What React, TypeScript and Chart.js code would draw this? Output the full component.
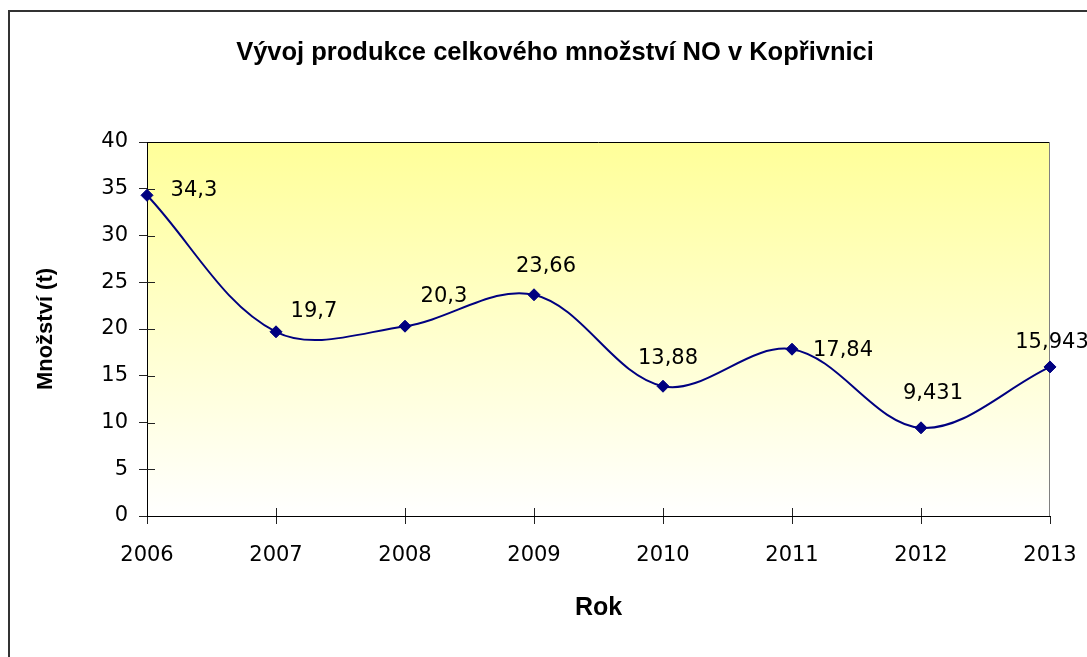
import React, { useEffect, useRef } from "react";
import { Chart, registerables } from "chart.js";

Chart.register(...registerables);

// ---- data ----
const years: string[] = ["2006", "2007", "2008", "2009", "2010", "2011", "2012", "2013"];
const amounts: number[] = [34.3, 19.7, 20.3, 23.66, 13.88, 17.84, 9.431, 15.943];
const yMin = 0;
const yMax = 40;
const yStep = 5;
const chartTitle = "Vývoj produkce celkového množství NO v Kopřivnici";
const xTitle = "Rok";
const yTitle = "Množství (t)";

// label placement (styling offsets relative to each point, px)
const labelOffsets: [number, number][] = [
  [47, -5],
  [38, -20],
  [39, -30],
  [12, -28],
  [5, -28],
  [51, 1],
  [12, -34],
  [2, -24],
];

const NAVY = "#000080";
const TICK_FONT = { family: "'DejaVu Sans', sans-serif", size: 21 };

const fmt = (v: number) => String(v).replace(".", ",");

const plotDecor = {
  id: "plotDecor",
  beforeDraw(chart: any) {
    const { ctx, chartArea: a } = chart;
    const g = ctx.createLinearGradient(0, a.top, 0, a.bottom);
    g.addColorStop(0, "#FFFF99");
    g.addColorStop(1, "#FFFFFF");
    ctx.save();
    ctx.fillStyle = g;
    ctx.fillRect(a.left, a.top, a.right - a.left, a.bottom - a.top);
    ctx.restore();
  },
  beforeDatasetsDraw(chart: any) {
    const { ctx, chartArea: a, scales } = chart;
    ctx.save();
    ctx.lineWidth = 1;
    // top border
    ctx.strokeStyle = "#000";
    ctx.beginPath();
    ctx.moveTo(a.left, Math.round(a.top) + 0.5);
    ctx.lineTo(a.right, Math.round(a.top) + 0.5);
    ctx.stroke();
    // right border
    ctx.strokeStyle = "#808080";
    ctx.beginPath();
    ctx.moveTo(Math.round(a.right) - 0.5, a.top);
    ctx.lineTo(Math.round(a.right) - 0.5, a.bottom);
    ctx.stroke();
    // inner halves of cross tick marks
    ctx.strokeStyle = "#222";
    const y = scales.y;
    y.ticks.forEach((_t: any, i: number) => {
      const py = Math.round(y.getPixelForTick(i)) + 0.5;
      if (py <= a.top + 1 || py >= a.bottom - 1) return;
      ctx.beginPath();
      ctx.moveTo(a.left, py);
      ctx.lineTo(a.left + 8, py);
      ctx.stroke();
    });
    const x = scales.x;
    x.ticks.forEach((_t: any, i: number) => {
      const px = Math.round(x.getPixelForTick(i)) + 0.5;
      if (px <= a.left + 1 || px >= a.right - 1) return;
      ctx.beginPath();
      ctx.moveTo(px, a.bottom);
      ctx.lineTo(px, a.bottom - 8);
      ctx.stroke();
    });
    ctx.restore();
  },
  afterDatasetsDraw(chart: any) {
    const { ctx } = chart;
    const meta = chart.getDatasetMeta(0);
    ctx.save();
    ctx.font = `${TICK_FONT.size}px ${TICK_FONT.family}`;
    ctx.fillStyle = "#000";
    ctx.textAlign = "center";
    ctx.textBaseline = "middle";
    meta.data.forEach((pt: any, i: number) => {
      const [dx, dy] = labelOffsets[i] || [0, -20];
      ctx.fillText(fmt(amounts[i]), pt.x + dx, pt.y + dy);
    });
    ctx.restore();
  },
};

export default function App() {
  const ref = useRef<HTMLCanvasElement | null>(null);

  useEffect(() => {
    if (!ref.current) return;
    const chart = new Chart(ref.current, {
      type: "line",
      data: {
        labels: years,
        datasets: [
          {
            data: amounts,
            borderColor: NAVY,
            backgroundColor: NAVY,
            borderWidth: 2,
            tension: 0.35,
            pointStyle: "rectRot",
            pointRadius: 6,
            pointBackgroundColor: NAVY,
            pointBorderColor: NAVY,
            pointBorderWidth: 1,
            fill: false,
            clip: false as any,
            yAxisID: "y",
          },
        ],
      },
      options: {
        responsive: false,
        animation: false,
        devicePixelRatio: 1,
        layout: { padding: 0 },
        plugins: {
          legend: { display: false },
          tooltip: { enabled: false },
          title: {
            display: true,
            text: chartTitle,
            color: "#000",
            font: { family: "'Liberation Sans', Arial, sans-serif", size: 25.5, weight: "bold", lineHeight: 1.2 },
            padding: { top: 38, bottom: 73.4 },
          },
        },
        scales: {
          x: {
            type: "category",
            offset: false,
            grid: { display: true, drawOnChartArea: false, drawTicks: true, tickLength: 8, color: "#222" },
            border: { display: true, color: "#000", width: 1 },
            ticks: { color: "#000", font: TICK_FONT, padding: 19, maxRotation: 0, autoSkip: false },
            title: {
              display: true,
              text: xTitle,
              color: "#000",
              font: { family: "'Liberation Sans', Arial, sans-serif", size: 25, weight: "bold", lineHeight: 1.2 },
              padding: { top: 0, bottom: 34 },
            },
            afterFit: (s: any) => {
              s.height = 141;
            },
          },
          y: {
            type: "linear",
            position: "left",
            min: yMin,
            max: yMax,
            grid: { display: true, drawOnChartArea: false, drawTicks: true, tickLength: 8, color: "#222" },
            border: { display: true, color: "#000", width: 1 },
            ticks: { stepSize: yStep, color: "#000", font: TICK_FONT, padding: 11 },
            title: {
              display: true,
              text: yTitle,
              color: "#000",
              font: { family: "'Liberation Sans', Arial, sans-serif", size: 22, weight: "bold", lineHeight: 1.2 },
              padding: { top: 33, bottom: 0 },
            },
            afterFit: (s: any) => {
              s.width = 147;
            },
          },
          yRightSpace: {
            type: "linear",
            position: "right",
            display: true,
            grid: { display: false, drawTicks: false },
            border: { display: false },
            ticks: { display: false },
            afterFit: (s: any) => {
              s.width = 60;
            },
          },
        },
      } as any,
      plugins: [plotDecor],
    });
    return () => chart.destroy();
  }, []);

  return (
    <div
      style={{
        position: "fixed",
        left: 0,
        top: 0,
        width: 1087,
        height: 657,
        overflow: "hidden",
        background: "#fff",
      }}
    >
      <div
        style={{
          position: "absolute",
          left: 8,
          top: 10,
          width: 1200,
          height: 800,
          borderTop: "2px solid #333",
          borderLeft: "2px solid #333",
        }}
      />
      <canvas
        ref={ref}
        width={1110}
        height={657}
        style={{ position: "absolute", left: 0, top: 0, width: 1110, height: 657, display: "block" }}
      />
    </div>
  );
}
